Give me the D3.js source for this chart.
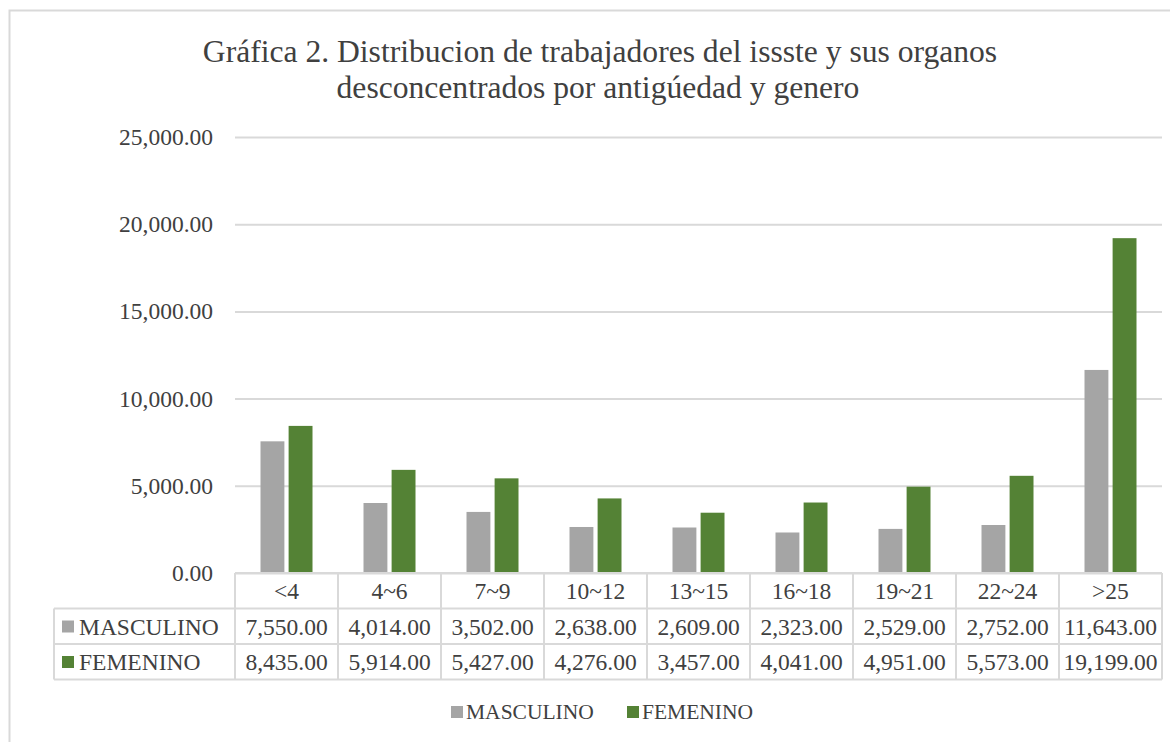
<!DOCTYPE html>
<html>
<head>
<meta charset="utf-8">
<script src="https://cdnjs.cloudflare.com/ajax/libs/d3/7.8.5/d3.min.js"></script>
<style>
  body { margin: 0; background: #fff; }
  text { font-family: "Liberation Serif", "Times New Roman", serif; fill: #404040; }
</style>
</head>
<body>
<div id="chart"></div>
<script>
const categories = ['<4', '4~6', '7~9', '10~12', '13~15', '16~18', '19~21', '22~24', '>25'];
const masculino = [7550, 4014, 3502, 2638, 2609, 2323, 2529, 2752, 11643];
const femenino = [8435, 5914, 5427, 4276, 3457, 4041, 4951, 5573, 19199];
const seriesNames = ['MASCULINO', 'FEMENINO'];
const yTicks = [0, 5000, 10000, 15000, 20000, 25000];

const colors = { MASCULINO: '#a5a5a5', FEMENINO: '#548235' };
const series = [
    { name: seriesNames[0], values: masculino },
    { name: seriesNames[1], values: femenino }
];

const W = 1170, H = 742;
const plot = { left: 235, right: 1162, top: 137, bottom: 573 };
const rowH = 35.5;
const fontSize = '23.5px';

const svg = d3.select('#chart')
    .append('svg')
    .attr('width', W)
    .attr('height', H);

// chart area border (runs past the right and bottom edges)
svg.append('rect')
    .attr('x', 9.5).attr('y', 10.5)
    .attr('width', 1200).attr('height', 800)
    .attr('fill', 'none')
    .attr('stroke', '#d9d9d9')
    .attr('stroke-width', 2);

// title
const title = svg.append('text')
    .attr('text-anchor', 'middle')
    .style('font-size', '31.6px');
title.append('tspan').attr('x', 600).attr('y', 62)
    .text('Gráfica 2. Distribucion de trabajadores del issste y sus organos');
title.append('tspan').attr('x', 598).attr('y', 98)
    .text('desconcentrados por antigúedad y genero');

const x = d3.scaleBand()
    .domain(categories)
    .range([plot.left, plot.right]);

// two bars ~24px wide with a small gap, centred in each category
const x1 = d3.scaleBand()
    .domain(seriesNames)
    .range([x.bandwidth() / 2 - 26, x.bandwidth() / 2 + 26])
    .paddingInner(0.15);

const y = d3.scaleLinear()
    .domain([0, 25000])
    .range([plot.bottom, plot.top]);

// y axis + gridlines
const yAxis = svg.append('g')
    .attr('transform', `translate(${plot.left}, 0)`)
    .call(d3.axisLeft(y)
        .tickValues(yTicks)
        .tickFormat(d3.format(',.2f'))
        .tickSize(-(plot.right - plot.left))
        .tickPadding(22));
yAxis.select('.domain').remove();
yAxis.selectAll('line').attr('stroke', '#d9d9d9').attr('stroke-width', 2);
yAxis.selectAll('text')
    .style('font-size', fontSize)
    .attr('fill', '#404040')
    .attr('font-family', '"Liberation Serif", serif');

// bars
const groups = svg.append('g')
    .selectAll('g')
    .data(categories)
    .join('g')
    .attr('transform', d => `translate(${x(d)}, 0)`);

groups.selectAll('rect')
    .data((d, i) => series.map(s => ({ name: s.name, value: s.values[i] })))
    .join('rect')
    .attr('x', d => x1(d.name))
    .attr('width', x1.bandwidth())
    .attr('y', d => y(d.value))
    .attr('height', d => y(0) - y(d.value))
    .attr('fill', d => colors[d.name]);

// data table
const table = svg.append('g');
const tTop = plot.bottom;
const tBottom = tTop + rowH * 3;
const tLeft = 54;
const lineColor = '#d9d9d9';

// horizontal lines
[0, 1, 2, 3].forEach(r => {
    table.append('line')
        .attr('x1', r === 0 ? plot.left : tLeft)
        .attr('x2', plot.right)
        .attr('y1', tTop + r * rowH)
        .attr('y2', tTop + r * rowH)
        .attr('stroke', lineColor).attr('stroke-width', 2);
});
// vertical lines
categories.forEach(c => {
    table.append('line')
        .attr('x1', x(c)).attr('x2', x(c))
        .attr('y1', tTop).attr('y2', tBottom)
        .attr('stroke', lineColor).attr('stroke-width', 2);
});
table.append('line')
    .attr('x1', plot.right).attr('x2', plot.right)
    .attr('y1', tTop).attr('y2', tBottom)
    .attr('stroke', lineColor).attr('stroke-width', 2);
table.append('line')
    .attr('x1', tLeft).attr('x2', tLeft)
    .attr('y1', tTop + rowH).attr('y2', tBottom)
    .attr('stroke', lineColor).attr('stroke-width', 2);

// category header
table.selectAll('text.cat')
    .data(categories)
    .join('text')
    .attr('class', 'cat')
    .attr('x', d => x(d) + x.bandwidth() / 2)
    .attr('y', tTop + 26)
    .attr('text-anchor', 'middle')
    .style('font-size', fontSize)
    .text(d => d);

// value rows
const fmt = d3.format(',.2f');
series.forEach((s, r) => {
    const yy = tTop + rowH * (r + 1);
    table.append('rect')
        .attr('x', 62).attr('y', yy + 12)
        .attr('width', 12).attr('height', 12)
        .attr('fill', colors[s.name]);
    table.append('text')
        .attr('x', 79).attr('y', yy + 26)
        .style('font-size', fontSize)
        .text(s.name);
    table.selectAll(null)
        .data(s.values)
        .join('text')
        .attr('x', (d, i) => x(categories[i]) + x.bandwidth() / 2)
        .attr('y', yy + 26)
        .attr('text-anchor', 'middle')
        .style('font-size', fontSize)
        .text(d => fmt(d));
});

// legend
const legendPos = [451, 627];
const legend = svg.append('g');
series.forEach((s, i) => {
    legend.append('rect')
        .attr('x', legendPos[i]).attr('y', 706)
        .attr('width', 12).attr('height', 12)
        .attr('fill', colors[s.name]);
    legend.append('text')
        .attr('x', legendPos[i] + 15).attr('y', 719)
        .style('font-size', '21.5px')
        .text(s.name);
});
</script>
</body>
</html>
